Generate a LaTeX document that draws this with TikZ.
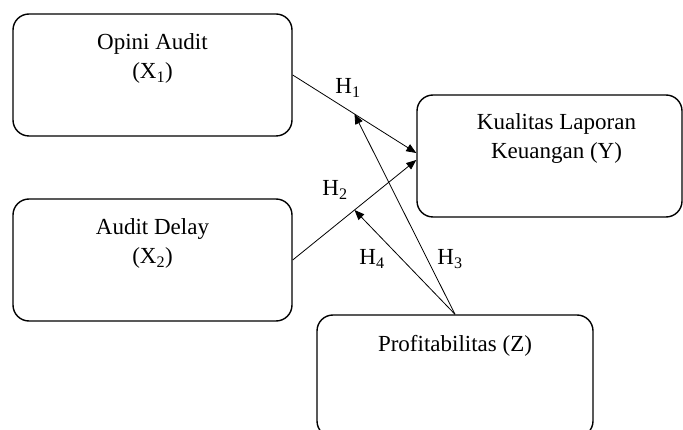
\documentclass[tikz,border=0pt]{standalone}
\usepackage{fontspec}
\setmainfont{Liberation Serif}
\usetikzlibrary{arrows.meta,positioning}
\tikzset{
  box/.style={draw, line width=1.4pt, rounded corners=16pt, minimum width=279pt, minimum height=122pt},
  boxtext/.style={anchor=north, align=center, inner sep=0pt, font=\fontsize{23}{29.5}\selectfont},
  hyp/.style={inner sep=0pt, font=\fontsize{23}{29.5}\selectfont},
  link/.style={->, line width=0.8pt},
  >={Triangle[length=10pt,width=8pt]}
}
\begin{document}
\begin{tikzpicture}[x=1pt,y=-1pt]
    \useasboundingbox (0,0) rectangle (683,430);
    \clip (0,0) rectangle (683,430);

    % Variables
    \node[box] (opini) at (152.5,75) {};
    \node[box] (delay) at (152.5,260) {};
    \node[box, minimum width=265pt] (kualitas) at (549.5,156) {};
    \node[box, minimum width=276pt] (profit) at (455,376) {};

    \node[boxtext, below=20pt of opini.north] (opinitext) {Opini Audit\\(X\textsubscript{1})};
    \node[boxtext, below=20pt of delay.north] (delaytext) {Audit Delay\\(X\textsubscript{2})};
    \node[boxtext, below=19pt of kualitas.north, xshift=7pt] (kualitastext) {Kualitas Laporan\\Keuangan (Y)};
    \node[boxtext, below=21pt of profit.north] (profittext) {Profitabilitas (Z)};

    % Direct paths
    \draw[link] (opini.east) -- coordinate[pos=0.5] (m1) ([yshift=3pt]kualitas.west);
    \draw[link] (delay.east) -- coordinate[pos=0.5] (m2) ([yshift=-4pt]kualitas.west);

    % Moderation paths
    \draw[link] (profit.north) -- (m1);
    \draw[link] (profit.north) -- (m2);

    % Hypotheses
    \node[hyp] (h1) at (348,88) {H\textsubscript{1}};
    \node[hyp] (h2) at (335,190) {H\textsubscript{2}};
    \node[hyp] (h3) at (450,259) {H\textsubscript{3}};
    \node[hyp] (h4) at (372,259) {H\textsubscript{4}};
\end{tikzpicture}
\end{document}
